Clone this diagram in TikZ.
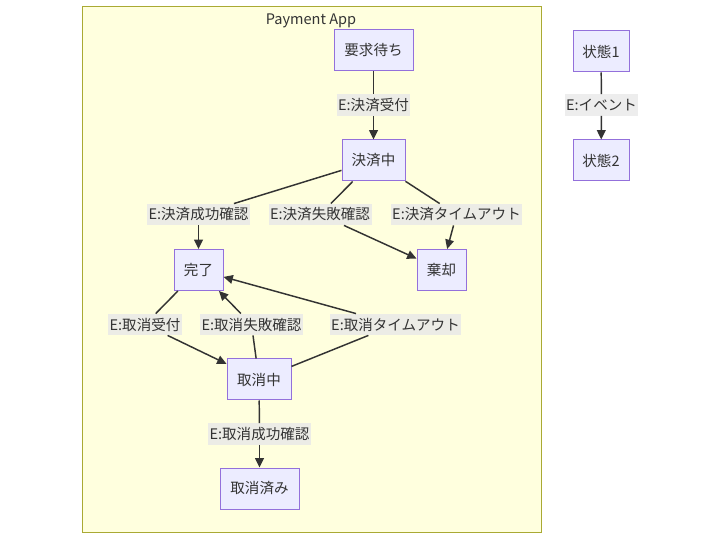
\documentclass[tikz,border=0pt]{standalone}
\usepackage{fontspec}
\setmainfont{Noto Sans CJK JP}
\usetikzlibrary{arrows.meta}

\definecolor{statefill}{HTML}{ECECFF}
\definecolor{stateline}{HTML}{9370DB}
\definecolor{boxfill}{HTML}{FFFFDE}
\definecolor{boxline}{HTML}{AAAA33}
\definecolor{eventfill}{HTML}{E8E8E8}
\definecolor{ink}{HTML}{333333}

\begin{document}
\begin{tikzpicture}[x=0.75pt,y=-0.75pt,>={Triangle[length=7pt,width=6.5pt]},font=\fontsize{10.9pt}{12pt}\selectfont]
	\tikzstyle{state}=[rectangle, draw=stateline, fill=statefill, line width=0.75pt, text=ink, minimum height=30.75pt, inner sep=0pt]
	\tikzstyle{event}=[rectangle, fill=eventfill, fill opacity=0.8, text opacity=1, text=ink, minimum height=16pt, inner xsep=1.2pt, inner ysep=0pt]
	\tikzstyle{trans}=[draw=ink, line width=1.1pt]

	\useasboundingbox (0,0) rectangle (721,541);

	% Payment App
	\draw[fill=boxfill, draw=boxline, line width=0.75pt] (82,7) rectangle (541,532);
	\node[text=ink] (title) at (311,21) {Payment App};

	\node [state, minimum width=59.25pt] (youkyu) at (373.5,50.5) {要求待ち};
	\node [state, minimum width=47.25pt] (kessaichu) at (373.5,160.5) {決済中};
	\node [state, minimum width=36.75pt] (kanryo) at (198.5,270) {完了};
	\node [state, minimum width=36.75pt] (kikyaku) at (441.5,270) {棄却};
	\node [state, minimum width=48pt] (torichu) at (259,379.5) {取消中};
	\node [state, minimum width=59.25pt] (torizumi) at (259.5,488.5) {取消済み};

	\node [event] (uketsuke) at (373.5,105) {E:決済受付};
	\node [event] (seikou) at (198.5,214.5) {E:決済成功確認};
	\node [event] (shippai) at (320,214.5) {E:決済失敗確認};
	\node [event] (timeout) at (456.5,214.5) {E:決済タイムアウト};
	\node [event] (toriuke) at (145,324.5) {E:取消受付};
	\node [event] (torishippai) at (251.5,324.5) {E:取消失敗確認};
	\node [event] (toritimeout) at (395.5,324.5) {E:取消タイムアウト};
	\node [event] (toriseikou) at (259.5,434) {E:取消成功確認};

	\draw[trans] (youkyu) -- (uketsuke);
	\draw[trans,->] (uketsuke) -- (kessaichu);
	\draw[trans] (kessaichu) -- (seikou);
	\draw[trans,->] (seikou) -- (kanryo);
	\draw[trans] (kessaichu) -- (shippai);
	\draw[trans,->] (shippai) -- (kikyaku);
	\draw[trans] (kessaichu) -- (timeout);
	\draw[trans,->] (timeout) -- (kikyaku);
	\draw[trans] (kanryo) -- (toriuke);
	\draw[trans,->] (toriuke) -- (torichu);
	\draw[trans] (torichu) -- (torishippai);
	\draw[trans,->] (torishippai) -- (kanryo);
	\draw[trans] (torichu) -- (toritimeout);
	\draw[trans,->] (toritimeout) -- (kanryo);
	\draw[trans] (torichu) -- (toriseikou);
	\draw[trans,->] (toriseikou) -- (torizumi);

	% legend
	\node [state, minimum width=42pt] (joutai1) at (601,51.5) {状態1};
	\node [state, minimum width=42pt] (joutai2) at (601,160.5) {状態2};
	\node [event] (ibento) at (601.5,105) {E:イベント};
	\draw[trans] (joutai1) -- (ibento);
	\draw[trans,->] (ibento) -- (joutai2);
\end{tikzpicture}
\end{document}
